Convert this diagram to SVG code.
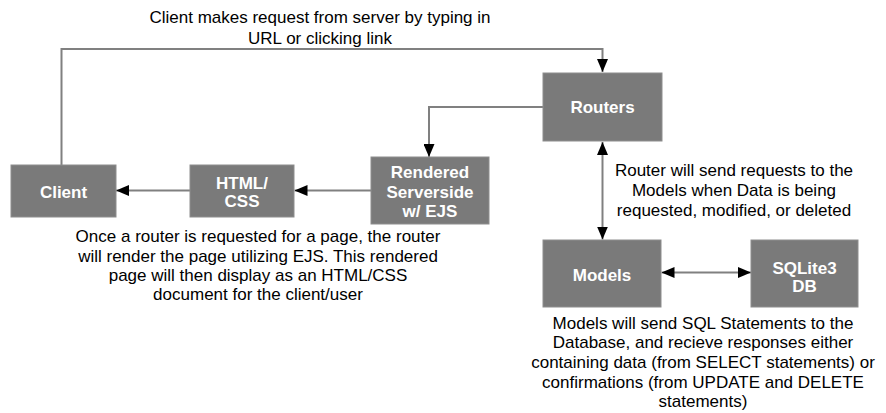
<svg xmlns="http://www.w3.org/2000/svg" width="886" height="413" viewBox="0 0 886 413">
  <style>
    .box { fill: #7a7a7a; stroke: #8e8e8e; stroke-width: 1; }
    .lbl { font-family: "Liberation Sans", Arial, sans-serif; font-size: 17px; font-weight: bold; fill: #ffffff; text-anchor: middle; }
    .note { font-family: "Liberation Sans", Arial, sans-serif; font-size: 17px; fill: #000000; text-anchor: middle; }
    .conn { fill: none; stroke: #808080; stroke-width: 2; }
  </style>
  <defs>
    <marker id="arr" markerUnits="userSpaceOnUse" markerWidth="13" markerHeight="11" refX="13" refY="5.5" orient="auto-start-reverse" viewBox="0 0 13 11">
      <path d="M0,0 L13,5.5 L0,11 z" fill="#000000"/>
    </marker>
  </defs>
  <rect width="886" height="413" fill="#ffffff"/>

  <g id="connectors">
    <path class="conn" d="M61.5,165 V49 H602.5 V72" marker-end="url(#arr)"/>
    <path class="conn" d="M543,107 H429 V157" marker-end="url(#arr)"/>
    <path class="conn" d="M371,190.5 H294.5" marker-end="url(#arr)"/>
    <path class="conn" d="M190,190.5 H116" marker-end="url(#arr)"/>
    <path class="conn" d="M602.5,142 V239.5" marker-start="url(#arr)" marker-end="url(#arr)"/>
    <path class="conn" d="M661.5,272.5 H751" marker-start="url(#arr)" marker-end="url(#arr)"/>
  </g>

  <g id="client">
    <rect class="box" x="11" y="165" width="105" height="52"/>
    <text class="lbl" x="63.5" y="197.5">Client</text>
  </g>
  <g id="html-css">
    <rect class="box" x="190" y="165" width="104" height="52"/>
    <text class="lbl" x="242" y="188.5">HTML/</text>
    <text class="lbl" x="242" y="207">CSS</text>
  </g>
  <g id="rendered">
    <rect class="box" x="371" y="157" width="118" height="67"/>
    <text class="lbl" x="430" y="178">Rendered</text>
    <text class="lbl" x="430" y="197.5">Serverside</text>
    <text class="lbl" x="430" y="217">w/ EJS</text>
  </g>
  <g id="routers">
    <rect class="box" x="543" y="73" width="119" height="68"/>
    <text class="lbl" x="602.5" y="113">Routers</text>
  </g>
  <g id="models">
    <rect class="box" x="543" y="240" width="118" height="67"/>
    <text class="lbl" x="602" y="281">Models</text>
  </g>
  <g id="sqlite">
    <rect class="box" x="751" y="240" width="107" height="67"/>
    <text class="lbl" x="804.5" y="274">SQLite3</text>
    <text class="lbl" x="804.5" y="292">DB</text>
  </g>

  <g id="notes">
    <text class="note" x="320" y="23">Client makes request from server by typing in</text>
    <text class="note" x="320" y="43.5">URL or clicking link</text>

    <text class="note" x="734" y="175.5">Router will send requests to the</text>
    <text class="note" x="734" y="195.5">Models when Data is being</text>
    <text class="note" x="734" y="215.5">requested, modified, or deleted</text>

    <text class="note" x="258" y="242">Once a router is requested for a page, the router</text>
    <text class="note" x="258" y="261.5">will render the page utilizing EJS. This rendered</text>
    <text class="note" x="258" y="281">page will then display as an HTML/CSS</text>
    <text class="note" x="258" y="300">document for the client/user</text>

    <text class="note" x="703" y="328.5">Models will send SQL Statements to the</text>
    <text class="note" x="703" y="348">Database, and recieve responses either</text>
    <text class="note" x="703" y="368">containing data (from SELECT statements) or</text>
    <text class="note" x="703" y="387.5">confirmations (from UPDATE and DELETE</text>
    <text class="note" x="703" y="407">statements)</text>
  </g>
</svg>
